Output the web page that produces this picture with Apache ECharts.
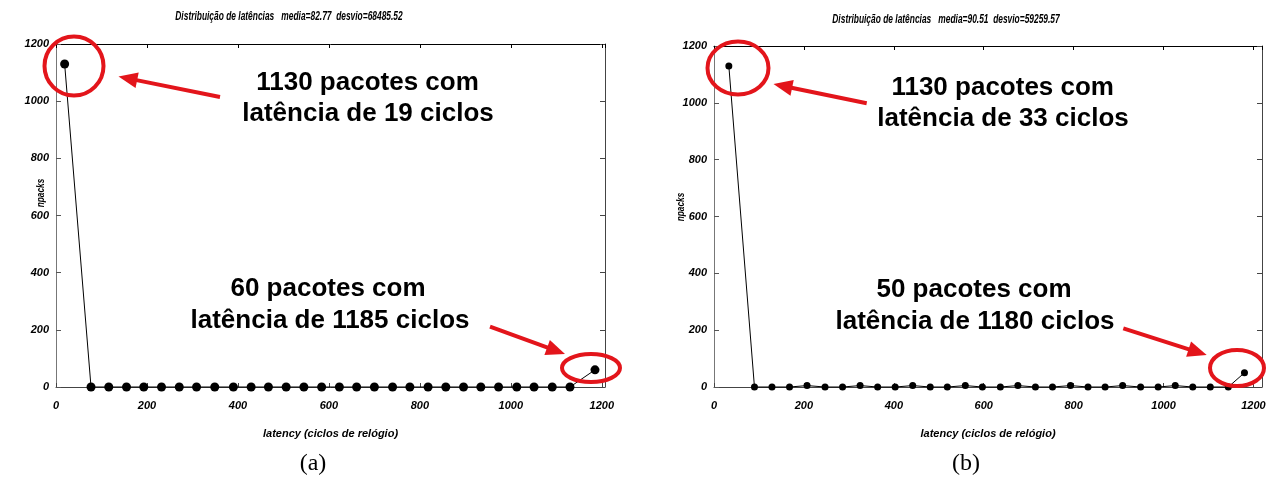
<!DOCTYPE html>
<html>
<head>
<meta charset="utf-8">
<script src="https://cdn.jsdelivr.net/npm/echarts@6/dist/echarts.min.js"></script>
<style>
  html, body { margin: 0; padding: 0; background: #ffffff; }
  #chart { width: 1270px; height: 478px; }
</style>
</head>
<body>
<div id="chart"></div>
<script>
// Run (a): latency histogram, one point per bin
const latencyA = [19, 77, 116, 155, 193, 232, 271, 309, 349, 390, 429, 467, 506, 545, 584,
                  623, 661, 700, 740, 778, 818, 857, 896, 934, 973, 1013, 1051, 1091, 1130, 1185];
const packetsA = [1130, 0, 0, 0, 0, 0, 0, 0, 0, 0, 0, 0, 0, 0, 0,
                  0, 0, 0, 0, 0, 0, 0, 0, 0, 0, 0, 0, 0, 0, 60];

// Run (b)
const latencyB = [33, 90, 129, 168, 207, 247, 286, 325, 364, 403, 442, 481, 519, 559, 597,
                  637, 676, 715, 753, 793, 832, 870, 909, 949, 988, 1026, 1065, 1104, 1144, 1180];
const packetsB = [1130, 0, 0, 0, 5, 0, 0, 5, 0, 0, 5, 0, 0, 5, 0,
                  0, 5, 0, 0, 5, 0, 0, 5, 0, 0, 5, 0, 0, 0, 50];

// Axis ticks
const tickStep = 200;
const yMax = 1200;

const titles = [
  'Distribuição de latências   media=82.77  desvio=68485.52',
  'Distribuição de latências   media=90.51  desvio=59259.57'
];
const xName = 'latency (ciclos de relógio)';
const yName = 'npacks';
const panelTags = ['(a)', '(b)'];
const callouts = [
  ['1130 pacotes com', 'latência de 19 ciclos'],
  ['60 pacotes com', 'latência de 1185 ciclos'],
  ['1130 pacotes com', 'latência de 33 ciclos'],
  ['50 pacotes com', 'latência de 1180 ciclos']
];

const RED = '#e3151b';
const tickFont = { fontFamily: 'Liberation Sans, Arial, sans-serif', fontStyle: 'italic', fontWeight: 'bold', fontSize: 11, color: '#000' };
const plain = v => String(v);

function pairOf(xs, ys) { return xs.map((x, i) => [x, ys[i]]); }

function bottomAxis(grid, max) {
  return {
    type: 'value', gridIndex: grid, position: 'bottom', min: 0, max: max, interval: tickStep,
    axisLine: { show: true, onZero: false, lineStyle: { color: '#444', width: 1 } },
    axisTick: { show: true, inside: true, length: 4, lineStyle: { color: '#444' } },
    axisLabel: Object.assign({ margin: 13, showMaxLabel: false, hideOverlap: false, formatter: plain }, tickFont),
    splitLine: { show: false },
    name: xName, nameLocation: 'middle', nameGap: 41,
    nameTextStyle: Object.assign({}, tickFont)
  };
}
function topAxis(grid, max) {
  return {
    type: 'value', gridIndex: grid, position: 'top', min: 0, max: max, interval: tickStep,
    axisLine: { show: true, onZero: false, lineStyle: { color: '#000', width: 1 } },
    axisTick: { show: true, inside: true, length: 4, lineStyle: { color: '#000' } },
    axisLabel: { show: false }, splitLine: { show: false }
  };
}
function leftAxis(grid) {
  return {
    type: 'value', gridIndex: grid, position: 'left', min: 0, max: yMax, interval: tickStep,
    axisLine: { show: true, onZero: false, lineStyle: { color: '#777', width: 1 } },
    axisTick: { show: true, inside: true, length: 5, lineStyle: { color: '#555' } },
    axisLabel: Object.assign({ margin: 7, formatter: plain }, tickFont),
    splitLine: { show: false }
  };
}
function rightAxis(grid) {
  return {
    type: 'value', gridIndex: grid, position: 'right', min: 0, max: yMax, interval: tickStep,
    axisLine: { show: true, onZero: false, lineStyle: { color: '#444', width: 1 } },
    axisTick: { show: true, inside: true, length: 5, lineStyle: { color: '#444' } },
    axisLabel: { show: false }, splitLine: { show: false }
  };
}
function histSeries(xi, yi, data, size) {
  return {
    type: 'line', xAxisIndex: xi, yAxisIndex: yi, data: data,
    symbol: 'circle', symbolSize: size, showSymbol: true, clip: false,
    lineStyle: { color: '#000', width: 1 },
    itemStyle: { color: '#000' },
    emphasis: { disabled: true }, animation: false
  };
}

// Red arrow from (x1,y1) pointing at (x2,y2)
function arrow(x1, y1, x2, y2) {
  const headLen = 19, headW = 16;
  const dx = x2 - x1, dy = y2 - y1, L = Math.hypot(dx, dy);
  const ux = dx / L, uy = dy / L, px = -uy, py = ux;
  const bx = x2 - ux * headLen, by = y2 - uy * headLen;
  return [
    { type: 'line', z: 100, shape: { x1: x1, y1: y1, x2: bx + ux * 2, y2: by + uy * 2 }, style: { stroke: RED, lineWidth: 4 } },
    { type: 'polygon', z: 100, shape: { points: [[x2, y2], [bx + px * headW / 2, by + py * headW / 2], [bx - px * headW / 2, by - py * headW / 2]] }, style: { fill: RED } }
  ];
}
function ring(cx, cy, rx, ry) {
  return { type: 'ellipse', z: 100, shape: { cx: cx, cy: cy, rx: rx, ry: ry }, style: { fill: null, stroke: RED, lineWidth: 4 } };
}
function label(x, y, text, font, extra) {
  return Object.assign({ type: 'text', z: 100, x: x, y: y, style: Object.assign({ text: text, align: 'center', verticalAlign: 'middle', fill: '#000' }, font) }, extra || {});
}
const bigFont = { font: 'bold 26px "Liberation Sans", Arial, sans-serif' };
const smallFont = { font: 'italic bold 11px "Liberation Sans", Arial, sans-serif' };
const titleFont = { font: 'italic bold 12px "Liberation Sans", Arial, sans-serif' };
const tagFont = { font: '24px "Liberation Serif", "Times New Roman", serif' };

const graphics = [
  label(289, 17, titles[0], titleFont, { scaleX: 0.7 }),
  label(946, 20, titles[1], titleFont, { scaleX: 0.7 }),
  label(41, 193, yName, smallFont, { rotation: Math.PI / 2, scaleX: 0.75 }),
  label(681, 207, yName, smallFont, { rotation: Math.PI / 2, scaleX: 0.75 }),
  label(313, 464, panelTags[0], tagFont),
  label(966, 464, panelTags[1], tagFont),

  ring(74, 66, 29.5, 29.5),
  ring(591, 368, 29, 14),
  ring(738, 68, 30.5, 26.5),
  ring(1237, 368, 27, 18),
  ...arrow(220, 97, 118.5, 76.5),
  ...arrow(490, 326.7, 565, 354),
  ...arrow(866.7, 103.3, 773.5, 84),
  ...arrow(1123.3, 328.3, 1206.7, 355),

  label(367.5, 82.5, callouts[0][0], bigFont),
  label(368, 113.5, callouts[0][1], bigFont),
  label(328, 289, callouts[1][0], bigFont),
  label(330, 321, callouts[1][1], bigFont),
  label(1002.7, 88, callouts[2][0], bigFont),
  label(1003, 118.5, callouts[2][1], bigFont),
  label(974, 290, callouts[3][0], bigFont),
  label(975, 321.5, callouts[3][1], bigFont)
];

const chart = echarts.init(document.getElementById('chart'), null, { renderer: 'canvas' });
chart.setOption({
  backgroundColor: '#ffffff',
  animation: false,
  grid: [
    { left: 56, top: 44, width: 549, height: 343, containLabel: false },
    { left: 714, top: 46, width: 548, height: 341, containLabel: false }
  ],
  xAxis: [bottomAxis(0, 1207), topAxis(0, 1207), bottomAxis(1, 1219), topAxis(1, 1219)],
  yAxis: [leftAxis(0), rightAxis(0), leftAxis(1), rightAxis(1)],
  series: [
    histSeries(0, 0, pairOf(latencyA, packetsA), 9),
    histSeries(2, 2, pairOf(latencyB, packetsB), 7)
  ],
  graphic: graphics
});
</script>
</body>
</html>
